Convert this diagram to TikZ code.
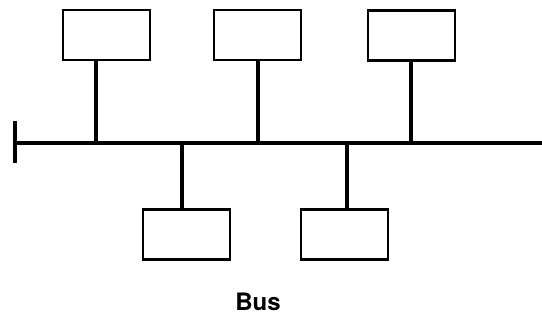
\documentclass[tikz,border=0pt]{standalone}
\usepackage{fontspec}
\setmainfont{TeX Gyre Heros}
\begin{document}
\begin{tikzpicture}[x=1pt,y=-1pt,
  station/.style={draw, line width=2.6pt, minimum width=87pt, minimum height=50pt, inner sep=0pt},
  stem/.style={line width=4pt},
  busline/.style={line width=4.5pt},
  caption/.style={font=\fontsize{24}{28}\selectfont\bfseries}]
\useasboundingbox (0,0) rectangle (542,321);
% bus backbone with its terminated left end
\coordinate (busL) at (15,143);
\coordinate (busR) at (542,143);
\coordinate (capT) at (15,121);
\coordinate (capB) at (15,163);
\draw[busline] (busL) -- (busR);
\draw[stem] (capT) -- (capB);
% stations above the bus
\node[station] (s1) at (106.5,35) {};
\node[station] (s2) at (257.5,35) {};
\node[station] (s3) at (411.5,35.5) {};
% stations below the bus
\node[station] (s4) at (186.5,234.5) {};
\node[station] (s5) at (344.5,234.5) {};
% taps onto the bus
\coordinate (t1) at (96,143);
\coordinate (t2) at (258,143);
\coordinate (t3) at (411,143);
\coordinate (t4) at (182,143);
\coordinate (t5) at (347,143);
\draw[stem] (s1.south -| t1) -- (t1);
\draw[stem] (s2.south -| t2) -- (t2);
\draw[stem] (s3.south -| t3) -- (t3);
\draw[stem] (s4.north -| t4) -- (t4);
\draw[stem] (s5.north -| t5) -- (t5);
\node[caption] (label) at (258,302) {Bus};
\end{tikzpicture}
\end{document}
